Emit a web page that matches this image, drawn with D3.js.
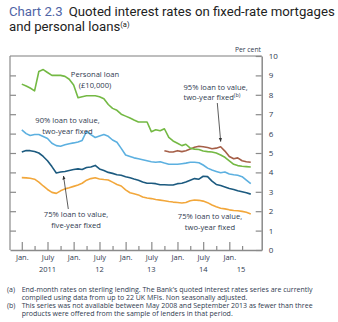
<!DOCTYPE html>
<html lang="en">
<head>
<meta charset="utf-8">
<title>Chart 2.3</title>
<script src="https://d3js.org/d3.v7.min.js"></script>
<style>
  body { margin: 0; background: #fff; }
  svg text { font-family: "Open Sans", sans-serif; }
  svg text.title { font-family: Roboto, "Open Sans", sans-serif; }
</style>
</head>
<body>
<script>
// end-month quoted rates, per cent, monthly from Jan 2011 to Jun 2015
var firstMonth = new Date(2011, 0, 1);

var personalLoan = [8.55, 8.45, 8.35, 8.2, 9.2, 9.3, 9.15, 9.0, 9.0, 9.0,
  8.95, 8.8, 8.5, 7.85, 7.9, 7.95, 7.95, 7.95, 7.9, 7.8,
  7.5, 7.3, 7.2, 7.0, 6.9, 6.8, 6.7, 6.6, 6.6, 6.6,
  6.1, 6.2, 6.15, 6.25, 5.8, 5.62, 5.5, 5.38, 5.45, 5.25,
  5.2, 5.18, 5.1, 5.07, 5.05, 5.0, 4.9, 4.78, 4.6, 4.42,
  4.35, 4.32, 4.3, 4.28];

var ltv90TwoYear = [6.19, 6.0, 5.9, 5.95, 5.95, 5.85, 5.75, 5.5, 5.38, 5.35,
  5.42, 5.48, 5.52, 5.57, 5.65, 6.12, 5.95, 5.8, 5.88, 5.95,
  5.86, 5.67, 5.55, 5.24, 4.9, 4.82, 4.75, 4.7, 4.65, 4.6,
  4.55, 4.52, 4.55, 4.48, 4.42, 4.42, 4.42, 4.45, 4.48, 4.52,
  4.52, 4.5, 4.38, 4.22, 4.12, 4.05, 3.98, 4.02, 3.92, 3.88,
  3.85, 3.78, 3.6, 3.42];

var ltv75FiveYear = [5.05, 5.13, 5.12, 5.08, 5.0, 4.82, 4.6, 4.3, 3.97, 4.02,
  4.05, 4.1, 4.15, 4.18, 4.15, 4.25, 4.28, 4.36, 4.18, 4.1,
  4.0, 3.95, 3.88, 3.85, 3.78, 3.72, 3.66, 3.6, 3.5, 3.44,
  3.44, 3.42, 3.36, 3.36, 3.35, 3.35, 3.42, 3.44, 3.5, 3.6,
  3.68, 3.65, 3.8, 3.78, 3.55, 3.38, 3.32, 3.25, 3.17, 3.12,
  3.05, 3.0, 2.95, 2.88];

var ltv75TwoYear = [3.73, 3.72, 3.7, 3.65, 3.5, 3.3, 3.12, 2.97, 2.92, 3.05,
  3.15, 3.21, 3.28, 3.35, 3.44, 3.6, 3.68, 3.72, 3.66, 3.63,
  3.61, 3.5, 3.38, 3.3, 3.1, 2.95, 2.9, 2.84, 2.73, 2.68,
  2.65, 2.6, 2.57, 2.54, 2.5, 2.47, 2.45, 2.42, 2.45, 2.54,
  2.58, 2.56, 2.52, 2.44, 2.32, 2.23, 2.15, 2.12, 2.07, 2.04,
  2.02, 1.99, 1.95, 1.86];

// 95% series only resumes in Oct 2013 (month 33)
var ltv95Start = 33;
var ltv95TwoYear = [5.12, 5.06, 5.05, 5.12, 5.07, 5.12, 5.2, 5.3, 5.35, 5.32,
  5.28, 5.22, 5.25, 5.32, 5.1, 4.82, 4.7, 4.75, 4.6, 4.55, 4.52];

var yTickValues = [0, 1, 2, 3, 4, 5, 6, 7, 8, 9, 10];
var monthNames = {0: 'Jan.', 6: 'July'};
var yearLabels = [
  {text: '2011', date: new Date(2011, 6, 1)},
  {text: '12', date: new Date(2012, 6, 1)},
  {text: '13', date: new Date(2013, 6, 1)},
  {text: '14', date: new Date(2014, 6, 1)},
  {text: '15', date: new Date(2015, 2, 24)}
];

var w = 338, h = 322;
var textColor = '#2f3a4f';
var frameColor = '#8a8a8a';

var svg = d3.select('body').append('svg')
  .attr('width', w)
  .attr('height', h);

// title, one text per line
var title = svg.append('text').attr('class', 'title').attr('x', 9).attr('y', 15.8)
  .attr('font-size', 13.2).attr('fill', '#222');
title.append('tspan').attr('fill', '#5064a6').text('Chart 2.3');
title.append('tspan').attr('dx', 6).text('Quoted interest rates on fixed-rate mortgages');
var title2 = svg.append('text').attr('class', 'title').attr('x', 9).attr('y', 31.4)
  .attr('font-size', 13.2).attr('fill', '#222');
title2.append('tspan').text('and personal loans');
title2.append('tspan').attr('font-size', 7.5).attr('dy', -4).text('(a)');

var x = d3.scaleTime()
  .domain([new Date(2010, 9, 10), new Date(2015, 7, 17)])
  .range([10, 261.7]);
var y = d3.scaleLinear()
  .domain([0, 10])
  .range([250, 56]);

function monthDate(i) { return d3.timeMonth.offset(firstMonth, i); }

// frame: top and left
svg.append('line').attr('x1', 10).attr('x2', 261.7).attr('y1', 56).attr('y2', 56)
  .attr('stroke', '#a8a8a8').attr('stroke-width', 1.4);
svg.append('line').attr('x1', 10).attr('x2', 10).attr('y1', 56).attr('y2', 250)
  .attr('stroke', frameColor).attr('stroke-width', 1.2);

// left inner ticks
var leftAxis = svg.append('g').attr('transform', 'translate(10,0)')
  .call(d3.axisLeft(y).tickValues(yTickValues.slice(1, -1)).tickSizeInner(-6).tickSizeOuter(0).tickFormat(''));
leftAxis.select('.domain').remove();
leftAxis.selectAll('line').attr('stroke', frameColor).attr('stroke-width', 1.2);

// right axis with labels
var rightAxis = svg.append('g').attr('transform', 'translate(261.7,0)')
  .call(d3.axisRight(y).tickValues(yTickValues).tickSizeInner(-6).tickSizeOuter(0).tickPadding(7));
rightAxis.select('.domain').attr('stroke', frameColor).attr('stroke-width', 1.5);
rightAxis.selectAll('line').attr('stroke', frameColor).attr('stroke-width', 1.2);
rightAxis.selectAll('text').attr('font-size', 8).attr('fill', textColor)
  .attr('font-family', '"Open Sans", sans-serif');

svg.append('text').attr('x', 261).attr('y', 51.5).attr('text-anchor', 'end')
  .attr('font-size', 6.8).attr('fill', textColor).text('Per cent');

// bottom axis: quarterly ticks, longer at Jan and July
var quarterTicks = d3.timeMonth.every(3).range(new Date(2011, 0, 1), new Date(2015, 4, 1));
var majorTicks = quarterTicks.filter(function(d) { return d.getMonth() % 6 === 0; });
var minorTicks = quarterTicks.filter(function(d) { return d.getMonth() % 6 !== 0; });

var bottomMinor = svg.append('g').attr('transform', 'translate(0,250)')
  .call(d3.axisBottom(x).tickValues(minorTicks).tickSizeInner(-4).tickSizeOuter(0).tickFormat(''));
bottomMinor.select('.domain').remove();
bottomMinor.selectAll('line').attr('stroke', frameColor).attr('stroke-width', 1.2);

var bottomMajor = svg.append('g').attr('transform', 'translate(0,250)')
  .call(d3.axisBottom(x).tickValues(majorTicks).tickSizeInner(-8).tickSizeOuter(0).tickPadding(5)
    .tickFormat(function(d) { return monthNames[d.getMonth()]; }));
bottomMajor.select('.domain').attr('stroke', frameColor).attr('stroke-width', 1.5);
bottomMajor.selectAll('line').attr('stroke', frameColor).attr('stroke-width', 1.2);
bottomMajor.selectAll('text').attr('font-size', 7.5).attr('fill', textColor)
  .attr('font-family', '"Open Sans", sans-serif');

svg.selectAll('text.year')
  .data(yearLabels)
  .enter()
  .append('text')
  .attr('class', 'year')
  .attr('x', function(d) { return x(d.date); })
  .attr('y', 272)
  .attr('text-anchor', 'middle')
  .attr('font-size', 7.5)
  .attr('fill', textColor)
  .text(function(d) { return d.text; });

// lines
var seriesList = [
  {values: ltv75TwoYear, start: 0, color: '#f2a73b'},
  {values: ltv75FiveYear, start: 0, color: '#1c5a7f'},
  {values: ltv90TwoYear, start: 0, color: '#5cb0e0'},
  {values: ltv95TwoYear, start: ltv95Start, color: '#a55f48'},
  {values: personalLoan, start: 0, color: '#74b944'}
];

var line = d3.line()
  .x(function(d) { return x(d.date); })
  .y(function(d) { return y(d.value); });

svg.selectAll('path.series')
  .data(seriesList)
  .enter()
  .append('path')
  .attr('class', 'series')
  .attr('fill', 'none')
  .attr('stroke', function(s) { return s.color; })
  .attr('stroke-width', 1.6)
  .attr('stroke-linejoin', 'round')
  .attr('d', function(s) {
    return line(s.values.map(function(v, i) { return {date: monthDate(s.start + i), value: v}; }));
  });

// annotations
function label(lines, px, py, anchor) {
  var t = svg.append('text').attr('font-size', 7.6).attr('fill', textColor)
    .attr('text-anchor', anchor);
  lines.forEach(function(l, i) {
    t.append('tspan').attr('x', px).attr('y', py + i * 10.5).text(l[0]);
    if (l[1]) t.append('tspan').attr('font-size', 5.5).attr('dy', -3.5).text(l[1]);
  });
}
label([['Personal loan'], ['(£10,000)']], 95, 77, 'middle');
label([['90% loan to value,'], ['two-year fixed']], 67.5, 123, 'middle');
label([['95% loan to value,'], ['two-year fixed', '(b)']], 183.5, 89.5, 'start');
label([['75% loan to value,'], ['five-year fixed']], 76, 217, 'middle');
label([['75% loan to value,'], ['two-year fixed']], 210, 219, 'middle');

svg.append('defs').append('marker')
  .attr('id', 'arrow')
  .attr('viewBox', '0 0 10 10')
  .attr('refX', 9).attr('refY', 5)
  .attr('markerWidth', 5).attr('markerHeight', 5)
  .attr('orient', 'auto')
  .append('path').attr('d', 'M0,1 L10,5 L0,9 Z').attr('fill', '#333');

svg.append('line').attr('x1', 217.3).attr('y1', 103).attr('x2', 220.7).attr('y2', 141.5)
  .attr('stroke', '#333').attr('stroke-width', 0.8).attr('marker-end', 'url(#arrow)');
svg.append('line').attr('x1', 68.3).attr('y1', 209).attr('x2', 63.5).attr('y2', 176)
  .attr('stroke', '#333').attr('stroke-width', 0.8).attr('marker-end', 'url(#arrow)');

// footnotes
var notes = [
  ['(a)', 'End-month rates on sterling lending.  The Bank\u2019s quoted interest rates series are currently'],
  ['', 'compiled using data from up to 22 UK MFIs.  Non seasonally adjusted.'],
  ['(b)', 'This series was not available between May 2008 and September 2013 as fewer than three'],
  ['', 'products were offered from the sample of lenders in that period.']
];
notes.forEach(function(n, i) {
  svg.append('text').attr('x', 7).attr('y', 291.5 + i * 8).attr('font-size', 7)
    .attr('fill', textColor).text(n[0]);
  svg.append('text').attr('x', 21.7).attr('y', 291.5 + i * 8).attr('font-size', 7)
    .attr('fill', textColor).text(n[1]);
});
</script>
</body>
</html>
